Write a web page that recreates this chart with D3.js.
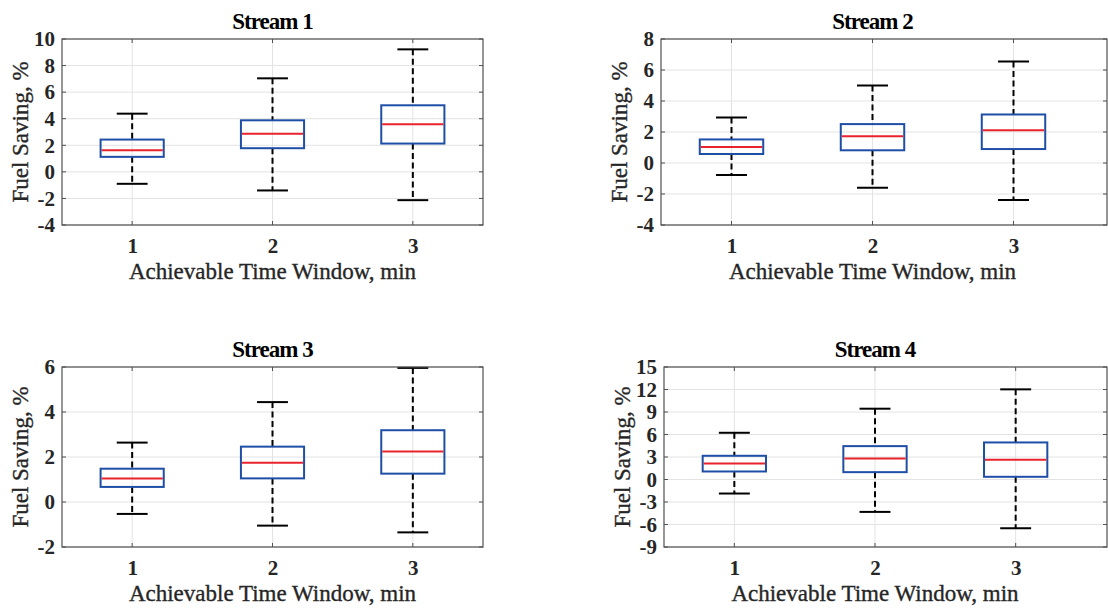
<!DOCTYPE html>
<html lang="en">
<head>
<meta charset="utf-8">
<title>Fuel saving by achievable time window</title>
<script src="https://cdn.jsdelivr.net/npm/d3@7"></script>
<style>
  body { margin: 0; background: #fff; }
  svg { display: block; font-family: "Liberation Serif", "Times New Roman", serif; }
</style>
</head>
<body>
<div id="chart"></div>
<script>
// data: one row per time window -> [lower whisker, q1, median, q3, upper whisker]
var windows = [1, 2, 3];
var titles = ["Stream 1", "Stream 2", "Stream 3", "Stream 4"];

var stream1 = [[-0.9, 1.13, 1.63, 2.43, 4.38], [-1.4, 1.78, 2.86, 3.88, 7.04], [-2.13, 2.13, 3.58, 5.01, 9.22]];
var stream2 = [[-0.77, 0.58, 1.03, 1.52, 2.94], [-1.59, 0.82, 1.72, 2.51, 5.0], [-2.38, 0.9, 2.12, 3.13, 6.55]];
var stream3 = [[-0.53, 0.67, 1.04, 1.48, 2.64], [-1.05, 1.05, 1.74, 2.46, 4.44], [-1.35, 1.26, 2.24, 3.19, 5.96]];
var stream4 = [[-1.87, 1.07, 2.14, 3.16, 6.23], [-4.32, 0.98, 2.8, 4.45, 9.44], [-6.5, 0.36, 2.63, 4.94, 12.02]];

var yTicks1 = [-4, -2, 0, 2, 4, 6, 8, 10];
var yTicks2 = [-4, -2, 0, 2, 4, 6, 8];
var yTicks3 = [-2, 0, 2, 4, 6];
var yTicks4 = [-9, -6, -3, 0, 3, 6, 9, 12, 15];

var allStreams = [stream1, stream2, stream3, stream4];
var allTicks = [yTicks1, yTicks2, yTicks3, yTicks4];

// panel placement in pixels (x0/x1 = frame, xr = right end of the x scale)
var panels = [
  {x0: 62,  xr: 483,  x1: 483,  y0: 39,  y1: 225},
  {x0: 661, xr: 1084, x1: 1107, y0: 39,  y1: 225},
  {x0: 62,  xr: 483,  x1: 483,  y0: 367, y1: 547},
  {x0: 664, xr: 1086, x1: 1107, y0: 367, y1: 547}
];

var W = 1108, H = 608;
var boxBlue = "#1f4ea6", medRed = "#e8232b", gridCol = "#e3e3e3", axisCol = "#505050", textCol = "#262626";

var svg = d3.select("#chart").append("svg")
    .attr("width", W)
    .attr("height", H);

panels.forEach(function(p, k){
    var data = allStreams[k];
    var ticks = allTicks[k];

    var x = d3.scaleLinear().domain([0.5, 3.5]).range([p.x0, p.xr]);
    var y = d3.scaleLinear().domain(d3.extent(ticks)).range([p.y1, p.y0]);
    var unit = x(2) - x(1);
    var g = svg.append("g");

    // grid lines
    g.selectAll(".hgrid").data(ticks).enter().append("line")
        .attr("x1", p.x0).attr("x2", p.x1)
        .attr("y1", function(d){ return y(d); })
        .attr("y2", function(d){ return y(d); })
        .attr("stroke", gridCol).attr("stroke-width", 1);
    g.selectAll(".vgrid").data(windows).enter().append("line")
        .attr("x1", function(d){ return x(d); })
        .attr("x2", function(d){ return x(d); })
        .attr("y1", p.y0).attr("y2", p.y1)
        .attr("stroke", gridCol).attr("stroke-width", 1);

    // left axis: labels only, ticks drawn inside
    var yAxis = d3.axisLeft(y).tickValues(ticks).tickSize(0).tickPadding(7)
        .tickFormat(function(d){ return d < 0 ? "-" + Math.abs(d) : d; });
    var ya = g.append("g").attr("transform", "translate(" + p.x0 + ",0)").call(yAxis);
    ya.select(".domain").remove();
    ya.selectAll("text").attr("font-size", 21).attr("font-weight", "bold")
        .attr("fill", textCol).attr("font-family", "Liberation Serif, serif");

    var xAxis = d3.axisBottom(x).tickValues(windows).tickSize(0).tickPadding(13)
        .tickFormat(d3.format("d"));
    var xa = g.append("g").attr("transform", "translate(0," + p.y1 + ")").call(xAxis);
    xa.select(".domain").remove();
    xa.selectAll("text").attr("font-size", 21).attr("font-weight", "bold")
        .attr("fill", textCol).attr("font-family", "Liberation Serif, serif");

    // inside tick marks on all four sides
    var tl = 4;
    ticks.forEach(function(t){
        g.append("line").attr("x1", p.x0).attr("x2", p.x0 + tl)
            .attr("y1", y(t)).attr("y2", y(t)).attr("stroke", axisCol);
        g.append("line").attr("x1", p.x1 - tl).attr("x2", p.x1)
            .attr("y1", y(t)).attr("y2", y(t)).attr("stroke", axisCol);
    });
    windows.forEach(function(w){
        g.append("line").attr("x1", x(w)).attr("x2", x(w))
            .attr("y1", p.y1 - tl).attr("y2", p.y1).attr("stroke", axisCol);
        g.append("line").attr("x1", x(w)).attr("x2", x(w))
            .attr("y1", p.y0).attr("y2", p.y0 + tl).attr("stroke", axisCol);
    });

    // whiskers (dashed)
    var bw = 0.45 * unit, cw = 0.22 * unit;
    var boxes = g.selectAll(".bx").data(data).enter().append("g");
    boxes.append("line")
        .attr("x1", function(d, i){ return x(windows[i]); })
        .attr("x2", function(d, i){ return x(windows[i]); })
        .attr("y1", function(d){ return y(d[4]); })
        .attr("y2", function(d){ return y(d[3]); })
        .attr("stroke", "#000").attr("stroke-width", 2).attr("stroke-dasharray", "6,3.5");
    boxes.append("line")
        .attr("x1", function(d, i){ return x(windows[i]); })
        .attr("x2", function(d, i){ return x(windows[i]); })
        .attr("y1", function(d){ return y(d[1]); })
        .attr("y2", function(d){ return y(d[0]); })
        .attr("stroke", "#000").attr("stroke-width", 2).attr("stroke-dasharray", "6,3.5");
    // caps
    [0, 4].forEach(function(j){
        boxes.append("line")
            .attr("x1", function(d, i){ return x(windows[i]) - cw / 2; })
            .attr("x2", function(d, i){ return x(windows[i]) + cw / 2; })
            .attr("y1", function(d){ return y(d[j]); })
            .attr("y2", function(d){ return y(d[j]); })
            .attr("stroke", "#000").attr("stroke-width", 2);
    });
    // box
    boxes.append("rect")
        .attr("x", function(d, i){ return x(windows[i]) - bw / 2; })
        .attr("y", function(d){ return y(d[3]); })
        .attr("width", bw)
        .attr("height", function(d){ return y(d[1]) - y(d[3]); })
        .attr("fill", "none").attr("stroke", boxBlue).attr("stroke-width", 2);
    // median
    boxes.append("line")
        .attr("x1", function(d, i){ return x(windows[i]) - bw / 2 + 1; })
        .attr("x2", function(d, i){ return x(windows[i]) + bw / 2 - 1; })
        .attr("y1", function(d){ return y(d[2]); })
        .attr("y2", function(d){ return y(d[2]); })
        .attr("stroke", medRed).attr("stroke-width", 2);

    // frame
    g.append("rect")
        .attr("x", p.x0).attr("y", p.y0)
        .attr("width", p.x1 - p.x0).attr("height", p.y1 - p.y0)
        .attr("fill", "none").attr("stroke", axisCol).attr("stroke-width", 1.2);

    // title and axis labels
    var cx = (x(1) + x(3)) / 2;
    g.append("text").attr("x", cx).attr("y", p.y0 - 10)
        .attr("text-anchor", "middle").attr("font-size", 23).attr("font-weight", "bold")
        .attr("letter-spacing", -1).attr("fill", "#000")
        .text(titles[k]);
    g.append("text").attr("x", cx).attr("y", p.y1 + 54)
        .attr("text-anchor", "middle").attr("font-size", 23)
        .attr("fill", textCol).attr("stroke", textCol).attr("stroke-width", 0.35)
        .text("Achievable Time Window, min");
    g.append("text")
        .attr("transform", "translate(" + (p.x0 - 34) + "," + ((p.y0 + p.y1) / 2) + ") rotate(-90)")
        .attr("text-anchor", "middle").attr("font-size", 23)
        .attr("fill", textCol).attr("stroke", textCol).attr("stroke-width", 0.35)
        .text("Fuel Saving, %");
});
</script>
</body>
</html>
